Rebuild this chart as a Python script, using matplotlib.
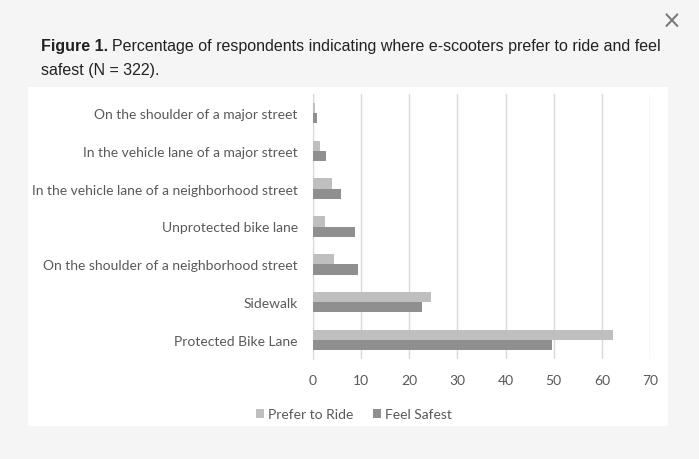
import matplotlib
matplotlib.use("Agg")
import matplotlib.pyplot as plt
from matplotlib.patches import Rectangle
import numpy as np

categories = [
    "Protected Bike Lane",
    "Sidewalk",
    "On the shoulder of a neighborhood street",
    "Unprotected bike lane",
    "In the vehicle lane of a neighborhood street",
    "In the vehicle lane of a major street",
    "On the shoulder of a major street",
]
prefer_to_ride = [62.4, 24.5, 4.4, 2.4, 4.0, 1.5, 0.5]
feel_safest = [49.7, 22.7, 9.3, 8.7, 5.9, 2.8, 0.8]
x_ticks = [0, 10, 20, 30, 40, 50, 60, 70]

W, H = 699, 460
fig = plt.figure(figsize=(W / 100, H / 100), dpi=100)
fig.patch.set_facecolor("#f5f5f5")

# white chart panel
fig.patches.append(Rectangle((28 / W, 1 - 427 / H), (668 - 28) / W, (427 - 88) / H,
                             transform=fig.transFigure, facecolor="white",
                             edgecolor="none", zorder=-10))

# caption
tfs = 11.5
t1 = fig.text(41 / W, 1 - 47 / H, "Figure 1.", fontsize=tfs, fontweight="bold",
              family="Liberation Sans", color="#222222", va="center", ha="left")
fig.canvas.draw()
bb = t1.get_window_extent()
fig.text((bb.x1 + 4) / W, 1 - 47 / H,
         "Percentage of respondents indicating where e-scooters prefer to ride and feel",
         fontsize=tfs, family="Liberation Sans", color="#222222", va="center", ha="left")
fig.text(41 / W, 1 - 71 / H, "safest (N = 322).", fontsize=tfs,
         family="Liberation Sans", color="#222222", va="center", ha="left")
fig.text(672 / W, 1 - 22 / H, "×", fontsize=17, family="DejaVu Sans",
         color="#777777", va="center", ha="center")

ax = fig.add_axes([313 / W, 1 - 360 / H, (650 - 313) / W, (360 - 95) / H])
ax.set_zorder(1)
ax.set_facecolor("none")
y = np.arange(len(categories))
h = 0.27
ax.barh(y + h / 2, prefer_to_ride, height=h, color="#bfbfbf", label="Prefer to Ride", zorder=3)
ax.barh(y - h / 2, feel_safest, height=h, color="#8f8f8f", label="Feel Safest", zorder=3)

ax.set_xlim(0, 70)
ax.set_ylim(-0.5, len(categories) - 0.5)
ax.set_xticks(x_ticks)
ax.set_xticklabels([str(t) for t in x_ticks])
ax.set_yticks(y)
ax.set_yticklabels(categories)
ax.xaxis.grid(True, color="#d9d9d9", linewidth=1)
ax.set_axisbelow(True)
for s in ["top", "right", "bottom"]:
    ax.spines[s].set_visible(False)
ax.spines["left"].set_color("#d9d9d9")
ax.tick_params(axis="both", length=0, labelsize=10, labelcolor="#595959")
ax.tick_params(axis="x", pad=11)
ax.tick_params(axis="y", pad=11)
for lab in ax.get_xticklabels() + ax.get_yticklabels():
    lab.set_family("Lato")

leg = fig.legend(loc="center", bbox_to_anchor=(354 / W, 1 - 415 / H), ncol=2,
                 frameon=False, prop={"family": "Lato", "size": 10},
                 handlelength=0.6, handleheight=0.6, handletextpad=0.3,
                 columnspacing=1.4, labelcolor="#595959")

fig.savefig("out.png", dpi=100, facecolor=fig.get_facecolor())
